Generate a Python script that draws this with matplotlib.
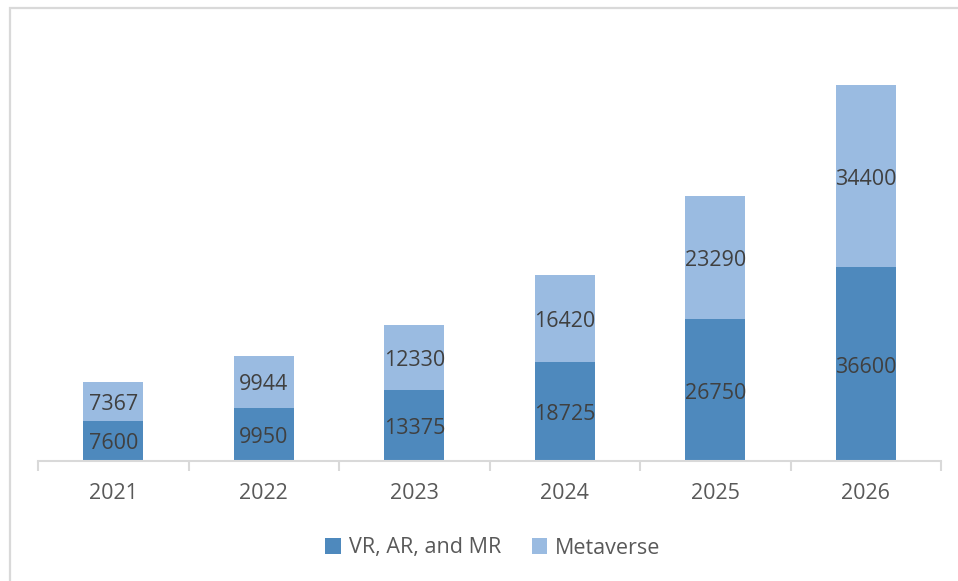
import matplotlib
matplotlib.use("Agg")
import matplotlib.pyplot as plt
import matplotlib.transforms as mtransforms
from matplotlib.patches import Rectangle, Patch

years = ["2021", "2022", "2023", "2024", "2025", "2026"]
vr_ar_mr = [7600, 9950, 13375, 18725, 26750, 36600]
metaverse = [7367, 9944, 12330, 16420, 23290, 34400]
series_names = ["VR, AR, and MR", "Metaverse"]

dark_blue = "#4e89bd"
light_blue = "#9abbe1"
label_color = "#404040"
tick_color = "#595959"
grid_gray = "#d9d9d9"

plt.rcParams["font.family"] = ["Open Sans", "DejaVu Sans"]

W, H = 958, 581
fig = plt.figure(figsize=(W / 100, H / 100), dpi=100)

# Outer chart border (only left and top edges fall inside the canvas)
fig.patches.append(Rectangle((10 / W, -0.1), 1.2, (H - 7.5) / H + 0.1,
                             transform=fig.transFigure, fill=False,
                             edgecolor=grid_gray, linewidth=1.6))

ax_left, ax_right = 38 / W, 941 / W
ax_bottom = (H - 461) / H
ymax = 80000
px_per_unit = 376 / 71000
ax_top_px = 461 - ymax * px_per_unit
ax = fig.add_axes([ax_left, ax_bottom, ax_right - ax_left, (461 - ax_top_px) / H])

x = list(range(len(years)))
width = 0.4
ax.bar(x, vr_ar_mr, width, color=dark_blue, label=series_names[0])
ax.bar(x, metaverse, width, bottom=vr_ar_mr, color=light_blue,
       label=series_names[1])

# value labels, nudged slightly below the segment centre
label_tf = ax.transData + mtransforms.ScaledTranslation(0, -3 / 100, fig.dpi_scale_trans)
for i in x:
    ax.text(i, vr_ar_mr[i] / 2, str(vr_ar_mr[i]), ha="center", va="center",
            fontsize=15.5, color=label_color, transform=label_tf)
    ax.text(i, vr_ar_mr[i] + metaverse[i] / 2, str(metaverse[i]),
            ha="center", va="center", fontsize=15.5, color=label_color,
            transform=label_tf)

ax.set_xlim(-0.5, len(years) - 0.5)
ax.set_ylim(0, ymax)
for s in ["top", "right", "left"]:
    ax.spines[s].set_visible(False)
ax.spines["bottom"].set_color(grid_gray)
ax.spines["bottom"].set_linewidth(1.5)
ax.set_yticks([])

# Category labels at centers, tick marks at category boundaries
ax.set_xticks(x)
ax.set_xticklabels(years, fontsize=15.5, color=tick_color)
ax.tick_params(axis="x", which="major", length=0, pad=16)
ax.set_xticks([i - 0.5 for i in range(len(years) + 1)], minor=True)
ax.tick_params(axis="x", which="minor", length=7, width=1.5, color=grid_gray)

handles = [Patch(facecolor=dark_blue), Patch(facecolor=light_blue)]
fig.legend(handles, series_names, loc="center", bbox_to_anchor=(493 / W, (H - 548) / H),
           ncol=2, frameon=False, fontsize=15.5, handlelength=0.7, handleheight=0.7,
           handletextpad=0.4, columnspacing=1.4, labelcolor=tick_color)

fig.savefig("out.png", dpi=100, facecolor="white")
